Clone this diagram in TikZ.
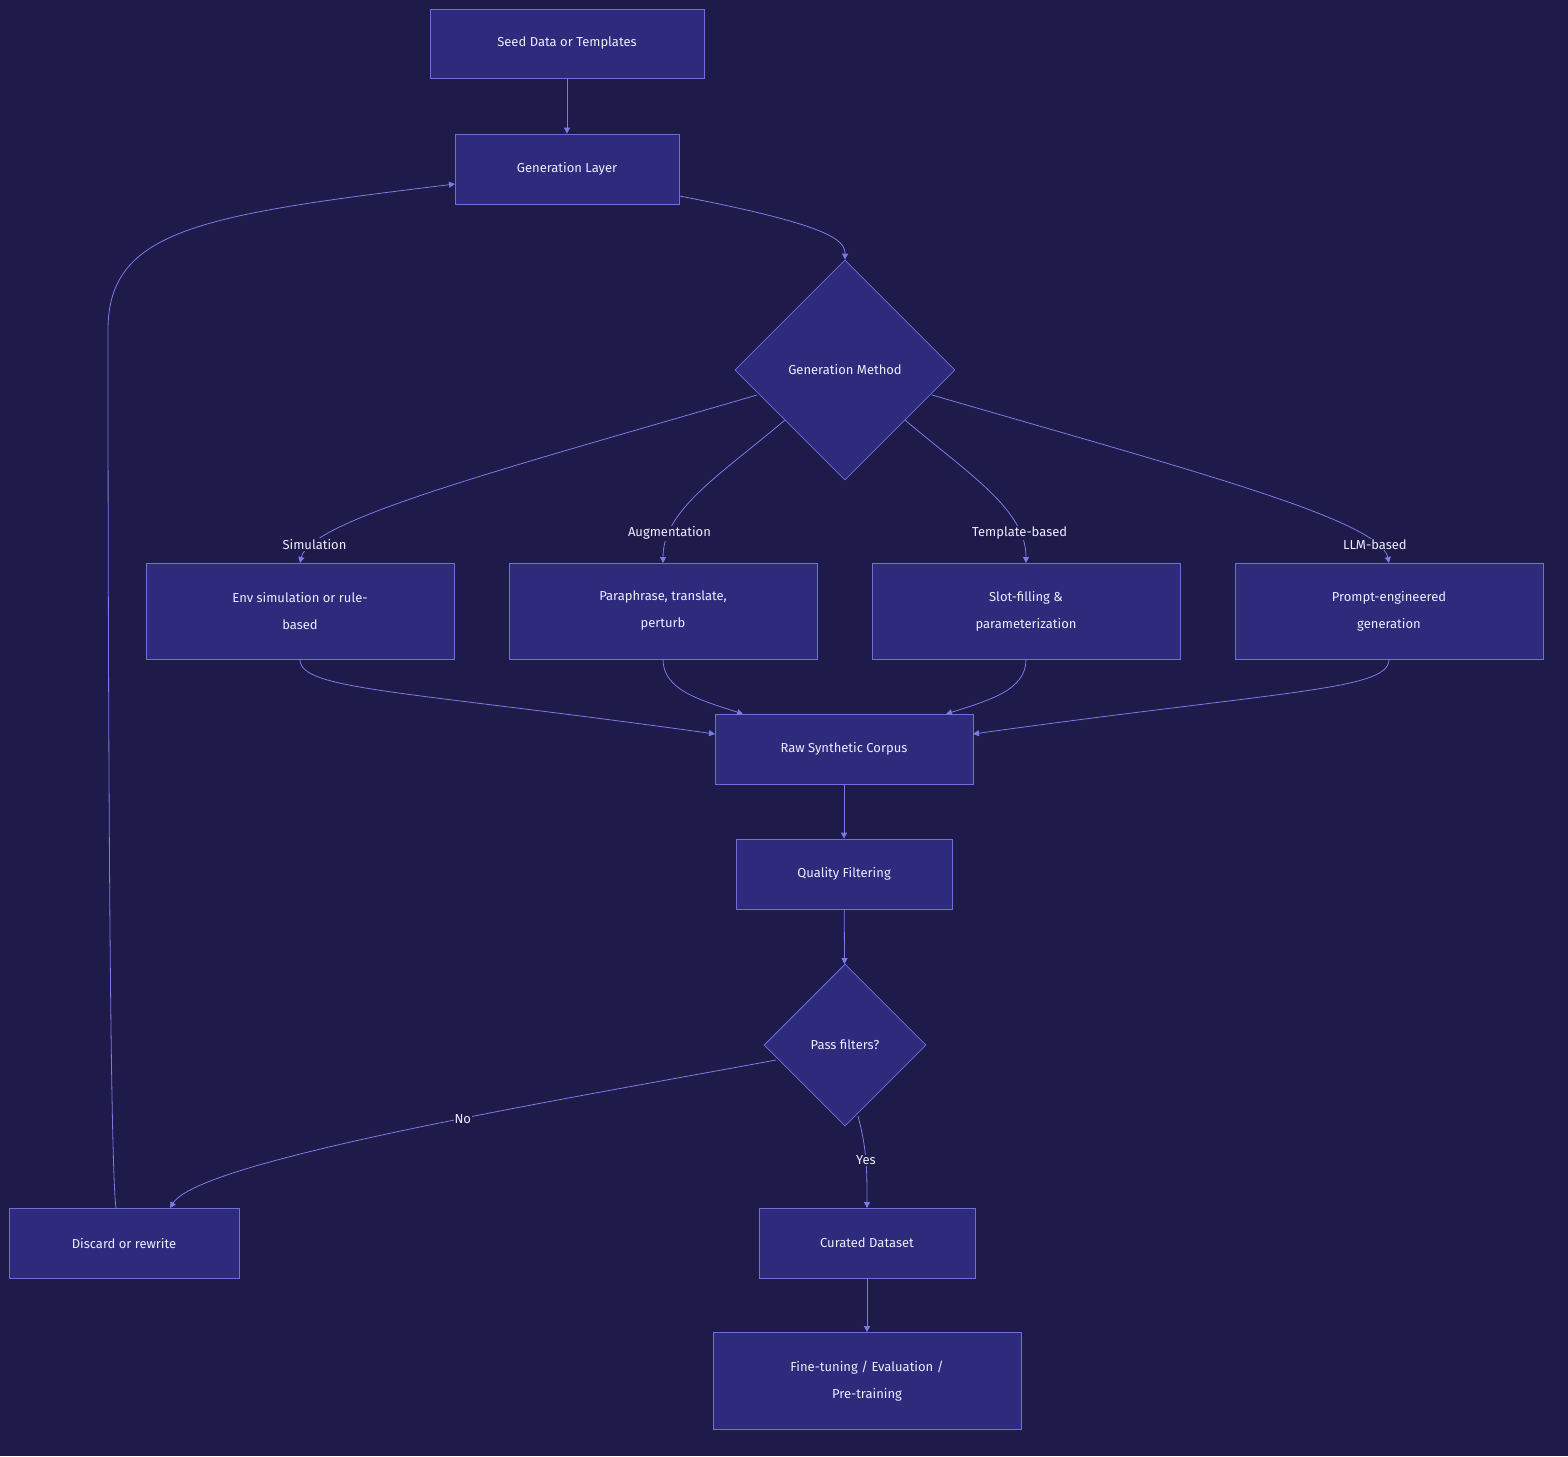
\documentclass[tikz,border=0pt]{standalone}
\usepackage{fontspec}
\setmainfont{Fira Sans}
\usetikzlibrary{shapes.geometric,arrows.meta}
\definecolor{bg}{HTML}{1E1B4B}
\definecolor{nf}{HTML}{2E2B7D}
\definecolor{nb}{HTML}{6F6FDB}
\definecolor{ln}{HTML}{7B7BE6}
\definecolor{tx}{HTML}{ECECFF}
\begin{document}
\begin{tikzpicture}[x=1pt,y=-1pt,
  box/.style={draw=nb,fill=nf,text=tx,font=\fontsize{13}{27}\selectfont,align=center,inner sep=0pt,line width=0.8pt},
  dia/.style={diamond,draw=nb,fill=nf,text=tx,font=\fontsize{13}{27}\selectfont,inner sep=0pt,line width=0.8pt,aspect=1},
  lab/.style={fill=bg,text=tx,font=\fontsize{13}{16}\selectfont,inner sep=1pt},
  edge/.style={draw=ln,line width=0.8pt,-{Triangle[length=6pt,width=6pt]}}]
\fill[bg] (0,0) rectangle (1568,1456);
\node[box,minimum width=274,minimum height=69] (seed) at (567,43.5) {Seed Data or Templates};
\node[box,minimum width=224,minimum height=70] (gen) at (567,169) {Generation Layer};
\node[dia,minimum width=220,minimum height=220] (meth) at (845,370) {Generation Method};
\node[box,minimum width=308,minimum height=96] (sim) at (300,611) {Env simulation or rule-\\based};
\node[box,minimum width=308,minimum height=96] (aug) at (663,611) {Paraphrase, translate,\\perturb};
\node[box,minimum width=308,minimum height=96] (tmp) at (1026,611) {Slot-filling \&\\parameterization};
\node[box,minimum width=308,minimum height=96] (llm) at (1389,611) {Prompt-engineered\\generation};
\node[box,minimum width=258,minimum height=70] (raw) at (844,749) {Raw Synthetic Corpus};
\node[box,minimum width=216,minimum height=70] (qf) at (844,874) {Quality Filtering};
\node[dia,minimum width=162,minimum height=162] (pass) at (845,1045) {Pass filters?};
\node[box,minimum width=230,minimum height=70] (disc) at (124,1243) {Discard or rewrite};
\node[box,minimum width=216,minimum height=70] (cur) at (867,1243) {Curated Dataset};
\node[box,minimum width=308,minimum height=97] (fine) at (867,1381) {Fine-tuning / Evaluation /\\Pre-training};
\coordinate (m1) at (757,395);
\coordinate (m2) at (785,420);
\coordinate (m3) at (905,420);
\coordinate (m4) at (932,395);
\draw[edge] (seed) -- (gen);
\draw[edge] (gen.east|-0,196) .. controls (830,225) and (845,240) .. (meth.north);
\draw[edge] (m1) .. controls (500,470) and (310,520) .. (300,563) node[lab,pos=0.86] {Simulation};
\draw[edge] (m2) .. controls (720,475) and (663,510) .. (663,563) node[lab,pos=0.8] {Augmentation};
\draw[edge] (m3) .. controls (970,475) and (1026,510) .. (1026,563) node[lab,pos=0.8] {Template-based};
\draw[edge] (m4) .. controls (1190,470) and (1380,520) .. (1389,563) node[lab,pos=0.86] {LLM-based};
\draw[edge] (sim.south) .. controls (300,690) and (400,690) .. (715,734);
\draw[edge] (aug.south) .. controls (663,690) and (700,700) .. (743,714);
\draw[edge] (tmp.south) .. controls (1026,690) and (990,700) .. (946,714);
\draw[edge] (llm.south) .. controls (1389,690) and (1290,690) .. (973,734);
\draw[edge] (raw) -- (qf);
\draw[edge] (qf) -- (pass);
\draw[edge] (776,1060) .. controls (560,1100) and (200,1160) .. (170,1208) node[lab,pos=0.42] {No};
\draw[edge] (858,1116) .. controls (867,1150) and (867,1170) .. (867,1208) node[lab,pos=0.5] {Yes};
\draw[edge] (cur) -- (fine);
\draw[edge] (116,1208) .. controls (108,1150) and (108,400) .. (108,330) .. controls (108,230) and (200,215) .. (455,184);
\end{tikzpicture}
\end{document}
